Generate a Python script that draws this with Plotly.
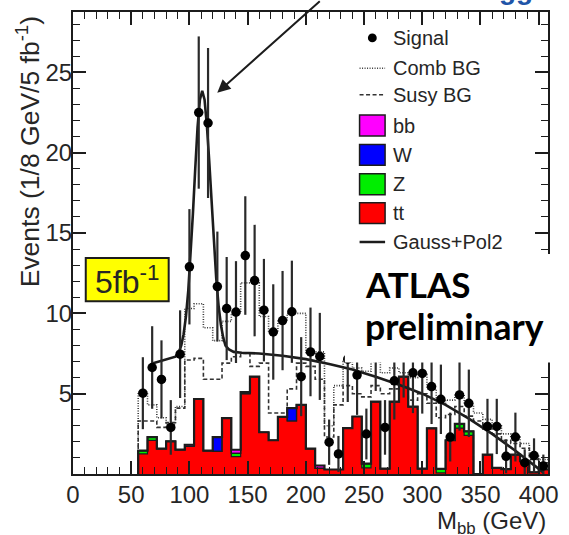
import plotly.graph_objects as go

# ---- data -----------------------------------------------------------------
# 8 GeV bins from 56 to 408 GeV
bin_edges = list(range(56, 409, 8))
bin_centers = [e + 4 for e in bin_edges[:-1]]

# stacked SM backgrounds (events per bin)
tt_bg = [1.25, 2.09, 1.58, 2.03, 1.52, 1.72, 4.67, 1.46, 1.41, 3.48,
         1.08, 5.00, 6.06, 2.60, 2.10, 3.55, 3.30, 4.30, 1.58, 0.35,
         0.28, 0.28, 2.86, 3.58, 0.38, 4.51, 0.34, 4.51, 6.06, 4.20,
         0.34, 2.84, 0.07, 2.10, 2.86, 2.40, 0.00, 1.20, 0.38, 0.30,
         1.20, 0.80, 0.10, 0.28]
z_bg = [0.21, 0.21, 0, 0, 0, 0, 0, 0, 0, 0,
        0.21, 0, 0, 0, 0, 0, 0, 0, 0, 0,
        0, 0, 0, 0, 0.27, 0, 0, 0, 0, 0,
        0, 0, 0.25, 0, 0.26, 0.25, 0, 0, 0, 0,
        0, 0, 0, 0]
w_bg = [0, 0, 0, 0, 0, 0, 0, 0, 0.89, 0,
        0, 0, 0, 0, 0, 0, 0.80, 0, 0, 0,
        0, 0, 0, 0, 0, 0, 0, 0, 0, 0,
        0, 0, 0, 0, 0, 0, 0, 0, 0, 0,
        0, 0, 0, 0]
bb_bg = [0, 0, 0, 0, 0, 0.10, 0, 0, 0, 0,
         0.22, 0.10, 0, 0, 0, 0, 0, 0, 0, 0.18,
         0, 0, 0, 0, 0, 0, 0, 0, 0, 0,
         0, 0, 0, 0, 0, 0, 0, 0, 0, 0,
         0, 0, 0, 0]

comb_bg = [5.1, 4.3, 3.5, 3.1, 4.2, 10.3, 10.6, 9.1, 8.3, 9.5,
           10.0, 11.9, 11.9, 9.8, 8.8, 9.6, 10.0, 10.0, 7.5, 7.6,
           3.0, 5.5, 7.0, 6.6, 6.4, 7.0, 6.3, 6.6, 6.3, 6.0,
           6.2, 5.3, 4.4, 4.6, 5.0, 4.3, 3.8, 3.4, 3.0, 2.5,
           2.3, 1.9, 1.1, 0.9]
susy_bg = [3.3, 3.3, 2.9, 3.2, 4.1, 7.1, 7.2, 5.9, 5.9, 6.9,
           7.3, 7.5, 6.7, 6.9, 3.8, 3.8, 5.3, 6.9, 6.7, 5.9,
           2.3, 4.3, 5.5, 5.0, 4.8, 5.5, 5.0, 5.3, 5.0, 4.6,
           5.0, 4.4, 3.5, 3.7, 4.2, 3.6, 3.3, 2.8, 2.5, 2.1,
           1.9, 1.6, 0.9, 0.7]

# signal + background pseudo-data
signal = [5.03, 6.63, 5.89, 2.90, 7.46, 12.9, 22.5, 21.85, 11.67, 10.3,
          10.08, 13.6, 12.04, 10.2, 8.84, 9.55, 10.1, 6.06, 7.6, 7.32,
          1.98, 1.25, 7.15, 6.16, 2.49, 8.0, 2.9, 5.8, 7.5, 6.3,
          6.26, 5.44, 4.65, 2.3, 4.92, 4.4, None, 2.96, 2.96, 1.1,
          2.3, 0.7, 1.15, 0.5]
signal_err = [2.24, 2.57, 2.43, 1.70, 2.73, 3.59, 4.74, 4.67, 3.42, 3.21,
              3.17, 3.69, 3.47, 3.19, 2.97, 3.09, 3.18, 2.46, 2.76, 2.71,
              1.41, 1.12, 2.67, 2.48, 1.58, 2.83, 1.70, 2.41, 2.74, 2.51,
              2.50, 2.33, 2.16, 1.52, 2.22, 2.10, 0, 1.72, 1.72, 1.05,
              1.52, 0.84, 1.07, 0.71]

# Gauss+Pol2 fit curve, sampled
fit_x = [68, 76, 84, 88, 91, 93, 95, 97, 99, 101, 103, 105, 107, 109, 111,
         113, 115, 117, 119, 121, 123, 125, 127, 129, 131, 134, 138, 145,
         160, 180, 200, 220, 240, 260, 280, 300, 320, 340, 360, 380, 400, 404]
fit_y = [6.88, 7.05, 7.2, 7.3, 7.6, 8.0, 8.7, 9.8, 11.4, 13.6, 16.2, 19.0,
         21.6, 23.3, 23.85, 23.3, 21.7, 19.5, 16.9, 14.4, 12.2, 10.5, 9.3,
         8.5, 8.0, 7.75, 7.6, 7.55, 7.5, 7.36, 7.15, 6.85, 6.5, 6.05, 5.55,
         5.0, 4.3, 3.45, 2.5, 1.45, 0.35, 0.1]

x_ticks = [0, 50, 100, 150, 200, 250, 300, 350, 400]
y_ticks = [5, 10, 15, 20, 25]

# ---- helpers --------------------------------------------------------------
L, R, T, B, W, H = 73, 12, 10, 61, 569, 535
PW, PH = W - L - R, H - T - B
X_MAX, Y_MAX = 408, 28.76


def pxx(x):
    return (x - L) / PW


def pxy(y):
    return (H - B - y) / PH


def step(vals):
    return [bin_edges[0]] + bin_edges, [0] + list(vals) + [vals[-1]]


def cumulate(*layers):
    return [sum(v) for v in zip(*layers)]


INK = "#1c1c1c"
TXT = "#262626"
fig = go.Figure()

# combinatorial and SUSY backgrounds as step outlines
sx, sy = step(comb_bg)
fig.add_trace(go.Scatter(x=sx, y=sy, mode="lines", line_shape="hv",
                         line=dict(color="#3a3a3a", width=1.6, dash="1px,1.5px"),
                         showlegend=False, hoverinfo="skip"))
sx, sy = step(susy_bg)
fig.add_trace(go.Scatter(x=sx, y=sy, mode="lines", line_shape="hv",
                         line=dict(color="#333", width=1.6, dash="4px,2.5px"),
                         showlegend=False, hoverinfo="skip"))

# stacked SM histograms
levels = [
    (tt_bg, "#ff0000"),
    (cumulate(tt_bg, z_bg), "#00ee00"),
    (cumulate(tt_bg, z_bg, w_bg), "#0000ff"),
    (cumulate(tt_bg, z_bg, w_bg, bb_bg), "#ff00ff"),
]
for i, (vals, col) in enumerate(levels):
    sx, sy = step(vals)
    fig.add_trace(go.Scatter(x=sx, y=sy, mode="lines", line_shape="hv",
                             line=dict(width=0, color=col),
                             fill="tozeroy" if i == 0 else "tonexty",
                             fillcolor=col, showlegend=False, hoverinfo="skip"))
for i, (vals, col) in enumerate(levels):
    sx, sy = step(vals)
    fig.add_trace(go.Scatter(x=sx, y=sy, mode="lines", line_shape="hv",
                             line=dict(width=2.2 if i == 3 else 1.2, color=INK),
                             showlegend=False, hoverinfo="skip"))

# fit
fig.add_trace(go.Scatter(x=fit_x, y=fit_y, mode="lines",
                         line=dict(color=INK, width=2.6),
                         showlegend=False, hoverinfo="skip"))

# data points
fig.add_trace(go.Scatter(x=bin_centers, y=signal, mode="markers",
                         marker=dict(color="black", size=9.5),
                         error_y=dict(type="data", array=signal_err,
                                      thickness=2.2, width=0, color="#2a2a2a"),
                         showlegend=False, hoverinfo="skip"))

shapes = []
ann = []

# legend
leg_x0, leg_x1, leg_tx = 365, 391, 397
shapes.append(dict(type="circle", xref="paper", yref="paper",
                   x0=pxx(373.5), x1=pxx(382.5), y0=pxy(40.5), y1=pxy(31.5),
                   fillcolor="black", line=dict(width=0)))
shapes.append(dict(type="line", xref="paper", yref="paper",
                   x0=pxx(leg_x0), x1=pxx(leg_x1), y0=pxy(66.5), y1=pxy(66.5),
                   line=dict(color="#3a3a3a", width=1.5, dash="1px,1.5px")))
shapes.append(dict(type="line", xref="paper", yref="paper",
                   x0=pxx(leg_x0), x1=pxx(leg_x1), y0=pxy(93), y1=pxy(93),
                   line=dict(color="#333", width=1.5, dash="4px,2.5px")))
for yc, col in [(124, "#ff00ff"), (153.5, "#0000ff"), (183, "#00ee00"), (212, "#ff0000")]:
    shapes.append(dict(type="rect", xref="paper", yref="paper",
                       x0=pxx(leg_x0), x1=pxx(leg_x1), y0=pxy(yc + 10.5), y1=pxy(yc - 10.5),
                       fillcolor=col, line=dict(color=INK, width=1.5)))
shapes.append(dict(type="line", xref="paper", yref="paper",
                   x0=pxx(leg_x0), x1=pxx(leg_x1), y0=pxy(241), y1=pxy(241),
                   line=dict(color=INK, width=2.5)))
for yc, txt in [(36, "Signal"), (66.5, "Comb BG"), (93, "Susy BG"), (124, "bb"),
                (153.5, "W"), (183, "Z"), (212, "tt"), (241, "Gauss+Pol2")]:
    ann.append(dict(x=pxx(leg_tx), y=pxy(yc), xref="paper", yref="paper",
                    xanchor="left", yanchor="middle", showarrow=False, text=txt,
                    font=dict(family="Liberation Sans", size=20, color=TXT)))

# luminosity label
shapes.append(dict(type="rect", xref="paper", yref="paper",
                   x0=pxx(86), x1=pxx(170.5), y0=pxy(300.5), y1=pxy(257),
                   fillcolor="#ffff00", line=dict(color=INK, width=2)))
ann.append(dict(x=pxx(128), y=pxy(279), xref="paper", yref="paper",
                xanchor="center", yanchor="middle", showarrow=False,
                text="5fb<sup>-1</sup>",
                font=dict(family="Liberation Sans", size=32, color=TXT)))

# white panel with experiment label
shapes.append(dict(type="rect", xref="paper", yref="paper", layer="above",
                   x0=pxx(350), x1=pxx(575), y0=pxy(362), y1=pxy(253),
                   fillcolor="white", line=dict(width=0)))
ann.append(dict(x=pxx(369), y=pxy(283), xref="paper", yref="paper",
                xanchor="left", yanchor="middle", showarrow=False, text="<b>ATLAS</b>",
                font=dict(family="Lato", size=35, color="black")))
ann.append(dict(x=pxx(369), y=pxy(326), xref="paper", yref="paper",
                xanchor="left", yanchor="middle", showarrow=False, text="<b>preliminary</b>",
                font=dict(family="Lato", size=35.5, color="black")))

# axis titles
ann.append(dict(x=pxx(28), y=pxy(12), xref="paper", yref="paper", textangle=-90,
                xanchor="center", yanchor="top", showarrow=False,
                text="Events (1/8 GeV/5 fb<sup>-1</sup>)",
                font=dict(family="Liberation Sans", size=26.5, color=TXT)))
ann.append(dict(x=pxx(557), y=pxy(523), xref="paper", yref="paper",
                xanchor="right", yanchor="middle", showarrow=False,
                text="M<sub>bb</sub> (GeV)",
                font=dict(family="Liberation Sans", size=24, color=TXT)))

# arrow pointing at the peak
ann.append(dict(x=(220 - L) / PW * X_MAX, y=(H - B - 91) / PH * Y_MAX,
                xref="x", yref="y",
                ax=104, ay=-101, showarrow=True, arrowhead=2, arrowsize=1.3,
                arrowwidth=2, arrowcolor=INK, standoff=0, text=""))

# slide title running off the top
ann.append(dict(x=pxx(477), y=pxy(5), xref="paper", yref="paper",
                xanchor="left", yanchor="bottom", showarrow=False, text="<b>Higgs</b>",
                font=dict(family="Liberation Sans", size=28, color="#1f55a8")))

tickfont = dict(family="Liberation Sans", size=24, color=TXT)
fig.update_layout(
    width=W, height=H, margin=dict(l=L, r=R, t=T, b=B),
    paper_bgcolor="white", plot_bgcolor="white",
    shapes=shapes, annotations=ann, showlegend=False,
    xaxis=dict(range=[0, X_MAX], tickmode="array", tickvals=x_ticks,
               ticks="inside", ticklen=13, tickwidth=1.5, tickcolor=INK,
               minor=dict(tickmode="linear", tick0=0, dtick=10, ticks="inside",
                          ticklen=7, tickwidth=1.2, tickcolor=INK),
               showline=True, linewidth=2, linecolor=INK, mirror="ticks",
               showgrid=False, zeroline=False, tickfont=tickfont,
               ticklabelstandoff=-2),
    yaxis=dict(range=[0, Y_MAX], tickmode="array", tickvals=y_ticks,
               ticks="inside", ticklen=13, tickwidth=1.5, tickcolor=INK,
               minor=dict(tickmode="linear", tick0=0, dtick=1, ticks="inside",
                          ticklen=7, tickwidth=1.2, tickcolor=INK),
               showline=True, linewidth=2, linecolor=INK, mirror="ticks",
               showgrid=False, zeroline=False, tickfont=tickfont,
               ticklabelstandoff=-6),
)

fig.write_html("out.html")
